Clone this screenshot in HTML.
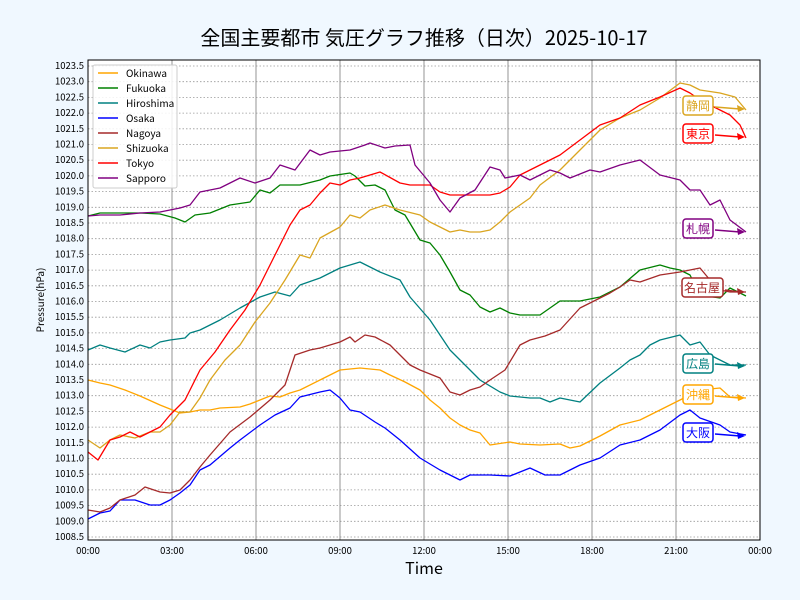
<!DOCTYPE html>
<html><head><meta charset="utf-8"><style>
body{margin:0;background:#f0f8ff;}
svg{display:block;font-family:"Noto Sans CJK JP","Liberation Sans",sans-serif;}
</style></head><body>
<svg width="800" height="600" viewBox="0 0 800 600" xmlns="http://www.w3.org/2000/svg">
<rect width="800" height="600" fill="#f0f8ff"/>
<rect x="88" y="60" width="672" height="480" fill="#fff"/>
<text x="424" y="45" font-size="20" text-anchor="middle" fill="#000">全国主要都市 気圧グラフ推移（日次）2025-10-17</text>
<g stroke="#999" stroke-width="0.8" stroke-dasharray="1.5,2">
<line x1="88" x2="760" y1="66" y2="66"/><line x1="88" x2="760" y1="81.7" y2="81.7"/><line x1="88" x2="760" y1="97.4" y2="97.4"/><line x1="88" x2="760" y1="113.1" y2="113.1"/><line x1="88" x2="760" y1="128.8" y2="128.8"/><line x1="88" x2="760" y1="144.5" y2="144.5"/><line x1="88" x2="760" y1="160.2" y2="160.2"/><line x1="88" x2="760" y1="175.9" y2="175.9"/><line x1="88" x2="760" y1="191.6" y2="191.6"/><line x1="88" x2="760" y1="207.3" y2="207.3"/><line x1="88" x2="760" y1="223" y2="223"/><line x1="88" x2="760" y1="238.7" y2="238.7"/><line x1="88" x2="760" y1="254.4" y2="254.4"/><line x1="88" x2="760" y1="270.1" y2="270.1"/><line x1="88" x2="760" y1="285.8" y2="285.8"/><line x1="88" x2="760" y1="301.5" y2="301.5"/><line x1="88" x2="760" y1="317.2" y2="317.2"/><line x1="88" x2="760" y1="332.9" y2="332.9"/><line x1="88" x2="760" y1="348.6" y2="348.6"/><line x1="88" x2="760" y1="364.3" y2="364.3"/><line x1="88" x2="760" y1="380" y2="380"/><line x1="88" x2="760" y1="395.7" y2="395.7"/><line x1="88" x2="760" y1="411.4" y2="411.4"/><line x1="88" x2="760" y1="427.1" y2="427.1"/><line x1="88" x2="760" y1="442.8" y2="442.8"/><line x1="88" x2="760" y1="458.5" y2="458.5"/><line x1="88" x2="760" y1="474.2" y2="474.2"/><line x1="88" x2="760" y1="489.9" y2="489.9"/><line x1="88" x2="760" y1="505.6" y2="505.6"/><line x1="88" x2="760" y1="521.3" y2="521.3"/><line x1="88" x2="760" y1="537" y2="537"/>
</g>
<g stroke="#888" stroke-width="0.9">
<line x1="172" x2="172" y1="60" y2="540"/><line x1="256" x2="256" y1="60" y2="540"/><line x1="340" x2="340" y1="60" y2="540"/><line x1="424" x2="424" y1="60" y2="540"/><line x1="508" x2="508" y1="60" y2="540"/><line x1="592" x2="592" y1="60" y2="540"/><line x1="676" x2="676" y1="60" y2="540"/>
</g>
<g font-size="9.5" fill="#000" text-anchor="end">
<text x="84" y="69">1023.5</text><text x="84" y="84.7">1023.0</text><text x="84" y="100.4">1022.5</text><text x="84" y="116.1">1022.0</text><text x="84" y="131.8">1021.5</text><text x="84" y="147.5">1021.0</text><text x="84" y="163.2">1020.5</text><text x="84" y="178.9">1020.0</text><text x="84" y="194.6">1019.5</text><text x="84" y="210.3">1019.0</text><text x="84" y="226">1018.5</text><text x="84" y="241.7">1018.0</text><text x="84" y="257.4">1017.5</text><text x="84" y="273.1">1017.0</text><text x="84" y="288.8">1016.5</text><text x="84" y="304.5">1016.0</text><text x="84" y="320.2">1015.5</text><text x="84" y="335.9">1015.0</text><text x="84" y="351.6">1014.5</text><text x="84" y="367.3">1014.0</text><text x="84" y="383">1013.5</text><text x="84" y="398.7">1013.0</text><text x="84" y="414.4">1012.5</text><text x="84" y="430.1">1012.0</text><text x="84" y="445.8">1011.5</text><text x="84" y="461.5">1011.0</text><text x="84" y="477.2">1010.5</text><text x="84" y="492.9">1010.0</text><text x="84" y="508.6">1009.5</text><text x="84" y="524.3">1009.0</text><text x="84" y="540">1008.5</text>
</g>
<g font-size="9.5" fill="#000" text-anchor="middle">
<text x="88" y="554">00:00</text><text x="172" y="554">03:00</text><text x="256" y="554">06:00</text><text x="340" y="554">09:00</text><text x="424" y="554">12:00</text><text x="508" y="554">15:00</text><text x="592" y="554">18:00</text><text x="676" y="554">21:00</text><text x="760" y="554">00:00</text>
</g>
<text x="424" y="574" font-size="16" text-anchor="middle">Time</text>
<text transform="translate(44,300) rotate(-90)" font-size="10" text-anchor="middle">Pressure(hPa)</text>
<g fill="none" stroke-width="1.3" stroke-linejoin="round">
<polyline stroke="orange" points="88,380 100,383 110,385 125,390 140,396 160,405 180,413 190,412 200,410 210,410 220,408 240,407 250,404 260,400 270,396 280,397 290,393 300,390 320,380 340,370 360,368 380,370 390,375 405,382 420,390 430,400 440,408 450,418 460,425 470,430 480,433 490,445 510,442 520,444 540,445 560,444 570,448 580,446 600,436 620,425 640,420 660,410 680,400 700,390 720,388 730,397 746,398"/>
<polyline stroke="green" points="88,216 100,213 140,213 160,214 175,218 185,222 195,215 210,213 230,205 250,202 260,190 270,193 280,185 300,185 320,180 330,176 350,173 355,176 365,186 375,185 385,190 395,210 405,215 420,240 430,243 440,255 450,272 460,290 470,295 480,307 490,312 500,308 510,313 520,315 540,315 550,308 560,301 580,301 600,297 610,292 620,287 640,270 660,265 670,268 680,270 690,275 700,295 720,298 730,288 746,296"/>
<polyline stroke="teal" points="88,350 100,345 110,348 125,352 140,345 150,348 160,342 170,340 185,338 190,333 200,330 210,325 220,320 240,308 260,297 275,292 290,296 300,285 320,278 340,268 360,262 380,272 400,280 410,297 430,320 450,350 460,360 480,380 500,392 510,396 530,398 540,398 550,402 560,398 580,402 600,383 620,368 630,360 640,355 650,345 660,340 680,335 690,345 700,342 710,355 720,360 730,365 746,365"/>
<polyline stroke="blue" points="88,519 100,513 110,511 120,500 135,500 150,505 160,505 170,500 180,493 190,485 200,470 210,465 230,448 240,440 260,425 275,415 290,408 300,397 320,392 330,390 340,398 350,410 360,412 375,422 385,428 400,440 420,458 440,470 450,475 460,480 470,475 490,475 510,476 530,468 545,475 560,475 570,470 580,465 600,458 620,445 640,440 660,430 680,415 690,410 700,418 720,425 730,432 746,435"/>
<polyline stroke="brown" points="88,510 100,512 110,508 120,500 135,495 145,487 160,492 170,493 180,490 190,480 200,467 210,455 230,432 250,417 270,400 285,385 295,355 310,350 320,348 340,342 350,337 355,342 365,335 375,337 390,345 400,355 410,365 420,370 440,378 450,392 460,395 470,390 480,387 490,380 505,370 520,345 530,340 545,336 560,330 580,308 600,298 610,293 620,287 630,280 640,282 660,275 680,272 690,270 700,268 710,280 720,290 730,292 746,292"/>
<polyline stroke="#daa520" points="88,440 100,448 110,440 120,435 135,438 150,432 160,432 170,425 180,412 190,412 200,398 210,380 225,360 240,345 255,322 270,303 285,280 300,255 310,258 320,238 340,227 350,215 360,218 370,210 385,205 400,210 420,215 430,222 440,227 450,232 460,230 470,232 480,232 490,230 500,222 510,212 520,205 530,198 540,185 560,170 580,150 600,130 620,118 640,110 660,98 680,83 690,85 700,90 720,93 735,97 746,110"/>
<polyline stroke="red" points="88,452 98,460 110,440 120,437 130,432 140,437 150,432 160,427 170,415 185,400 200,370 215,352 230,330 245,310 260,285 275,255 290,225 300,210 310,205 320,193 330,183 340,185 350,180 360,178 380,172 400,183 410,185 430,185 440,192 450,195 490,195 500,193 510,187 520,175 540,165 560,155 580,140 600,125 620,118 640,105 660,97 680,88 690,93 700,100 720,110 730,115 740,125 746,138"/>
<polyline stroke="purple" points="88,216 100,215 120,215 140,213 160,212 180,208 190,205 200,192 210,190 220,188 240,178 255,183 270,178 280,165 295,170 310,150 320,155 330,152 350,150 365,145 370,143 385,148 395,146 410,145 415,165 430,183 440,200 450,212 460,198 475,190 490,167 500,170 505,178 520,175 530,180 550,170 560,173 570,178 590,170 600,172 620,165 640,160 660,175 680,180 690,190 700,190 710,205 720,200 730,220 746,232"/>
</g>
<rect x="88" y="60" width="672" height="480" fill="none" stroke="#000" stroke-width="1"/>
<g>
<rect x="93" y="65" width="84" height="123" rx="2" fill="#fff" fill-opacity="0.85" stroke="#ccc"/>
<g stroke-width="1.5"><line x1="98" x2="118" y1="73" y2="73" stroke="orange"/><line x1="98" x2="118" y1="88" y2="88" stroke="green"/><line x1="98" x2="118" y1="103" y2="103" stroke="teal"/><line x1="98" x2="118" y1="118" y2="118" stroke="blue"/><line x1="98" x2="118" y1="133" y2="133" stroke="brown"/><line x1="98" x2="118" y1="148" y2="148" stroke="#daa520"/><line x1="98" x2="118" y1="163" y2="163" stroke="red"/><line x1="98" x2="118" y1="178" y2="178" stroke="purple"/></g>
<g font-size="10" fill="#000"><text x="126" y="77">Okinawa</text><text x="126" y="92">Fukuoka</text><text x="126" y="107">Hiroshima</text><text x="126" y="122">Osaka</text><text x="126" y="137">Nagoya</text><text x="126" y="152">Shizuoka</text><text x="126" y="167">Tokyo</text><text x="126" y="182">Sapporo</text></g>
</g>
<g font-size="12" stroke-width="1.5">
<g stroke="#daa520" fill="#daa520"><rect x="683" y="96" width="30" height="19" rx="3" fill="#fff"/><text x="698" y="110" text-anchor="middle" stroke="none">静岡</text><line x1="715" y1="107" x2="740" y2="109"/><path d="M745,109 L737,105 L738,112Z" stroke="none"/></g>
<g stroke="red" fill="red"><rect x="683" y="124" width="30" height="19" rx="3" fill="#fff"/><text x="698" y="138" text-anchor="middle" stroke="none">東京</text><line x1="715" y1="135" x2="740" y2="137"/><path d="M745,137 L737,133 L738,140Z" stroke="none"/></g>
<g stroke="purple" fill="purple"><rect x="683" y="219" width="30" height="19" rx="3" fill="#fff"/><text x="698" y="233" text-anchor="middle" stroke="none">札幌</text><line x1="715" y1="230" x2="740" y2="232"/><path d="M745,232 L737,228 L738,235Z" stroke="none"/></g>
<g stroke="brown" fill="brown"><rect x="682" y="278" width="41" height="19" rx="3" fill="#fff"/><text x="702" y="292" text-anchor="middle" stroke="none">名古屋</text><line x1="725" y1="290" x2="740" y2="292"/><path d="M745,292 L737,288 L738,295Z" stroke="none"/></g>
<g stroke="teal" fill="teal"><rect x="683" y="354" width="30" height="19" rx="3" fill="#fff"/><text x="698" y="368" text-anchor="middle" stroke="none">広島</text><line x1="715" y1="364" x2="740" y2="366"/><path d="M745,366 L737,362 L738,369Z" stroke="none"/></g>
<g stroke="orange" fill="orange"><rect x="683" y="385" width="30" height="19" rx="3" fill="#fff"/><text x="698" y="399" text-anchor="middle" stroke="none">沖縄</text><line x1="715" y1="396" x2="740" y2="398"/><path d="M745,398 L737,394 L738,401Z" stroke="none"/></g>
<g stroke="blue" fill="blue"><rect x="683" y="423" width="30" height="19" rx="3" fill="#fff"/><text x="698" y="437" text-anchor="middle" stroke="none">大阪</text><line x1="715" y1="434" x2="740" y2="436"/><path d="M745,436 L737,432 L738,439Z" stroke="none"/></g>
</g>
</svg>
</body></html>
